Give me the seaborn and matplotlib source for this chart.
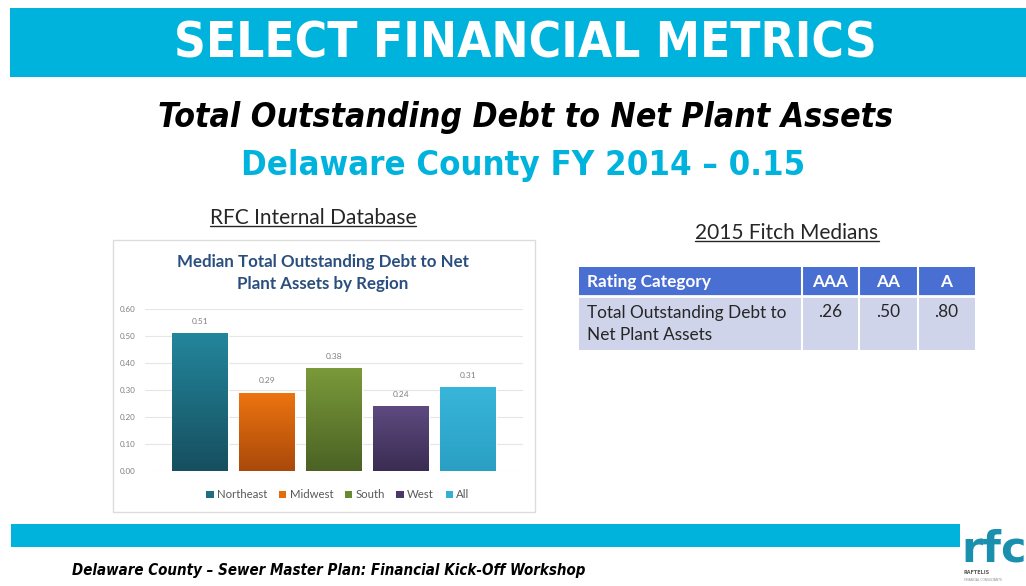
import numpy as np
import pandas as pd
import matplotlib
matplotlib.use("Agg")
import matplotlib.pyplot as plt
from matplotlib.patches import Rectangle
from matplotlib.colors import LinearSegmentedColormap
from matplotlib import font_manager as fm
import seaborn as sns

# ---- data ----
regions = ["Northeast", "Midwest", "South", "West", "All"]
debt_ratio = [0.51, 0.29, 0.38, 0.24, 0.31]
y_ticks = [0.0, 0.1, 0.2, 0.3, 0.4, 0.5, 0.6]

fitch_columns = ["Rating Category", "AAA", "AA", "A"]
fitch_metric = "Total Outstanding Debt to\nNet Plant Assets"
fitch_values = [".26", ".50", ".80"]

# top / bottom colour of each bar's vertical gradient
bar_top = ["#23869c", "#ee7410", "#7a9a3a", "#5e4a80", "#38b6da"]
bar_bottom = ["#164f5f", "#a9490a", "#4b6224", "#3a2c52", "#2a9fc4"]
legend_colors = ["#1f6f80", "#e46c0a", "#6a8a30", "#4b3868", "#33b0d6"]

W, H = 1026, 586
CYAN = "#00b3dd"

sns.set_theme(style="white")
plt.rcParams["font.family"] = ["DejaVu Sans"]

# pick a narrow sans for the slide headings
_names = {f.name for f in fm.fontManager.ttflist}
_dv_cond = any(f.name == "DejaVu Sans" and f.stretch == "condensed"
               for f in fm.fontManager.ttflist)
if "DejaVu Sans Condensed" in _names:
    HEAD_FONT = dict(family="DejaVu Sans Condensed")
elif _dv_cond:
    HEAD_FONT = dict(family="DejaVu Sans", fontstretch="condensed")
elif "Liberation Sans Narrow" in _names:
    HEAD_FONT = dict(family="Liberation Sans Narrow")
else:
    HEAD_FONT = dict(family="DejaVu Sans")

fig = plt.figure(figsize=(W / 100, H / 100), dpi=100)
fig.patch.set_facecolor("white")


def fx(x):
    return x / W


def fy(y):
    return 1 - y / H


def frect(x0, y0, x1, y1, **kw):
    r = Rectangle((fx(x0), fy(y1)), fx(x1) - fx(x0), fy(y0) - fy(y1),
                  transform=fig.transFigure, **kw)
    fig.add_artist(r)
    return r


# ---- slide header ----
frect(10, 8, W, 77, facecolor=CYAN, edgecolor="none")
fig.text(fx(525), fy(44), "SELECT FINANCIAL METRICS", color="white",
         fontsize=35.5, fontweight="bold", ha="center", va="center", **HEAD_FONT)
fig.text(fx(526), fy(118), "Total Outstanding Debt to Net Plant Assets",
         color="black", fontsize=24.2, fontweight="bold", style="italic",
         ha="center", va="center", **HEAD_FONT)
fig.text(fx(523), fy(165), "Delaware County FY 2014 \u2013 0.15", color=CYAN,
         fontsize=24.8, fontweight="bold", ha="center", va="center", **HEAD_FONT)

underlined = []
underlined.append(fig.text(fx(313), fy(218), "RFC Internal Database",
                           color="#262626", fontsize=15, ha="center",
                           va="center", family="Lato"))
underlined.append(fig.text(fx(787), fy(233), "2015 Fitch Medians",
                           color="#262626", fontsize=15, ha="center",
                           va="center", family="Lato"))

# ---- chart panel ----
frect(113, 240, 535, 512, facecolor="white", edgecolor="#dcdcdc", lw=1.0,
      zorder=-1)
fig.text(fx(323), fy(273), "Median Total Outstanding Debt to Net\nPlant Assets by Region",
         color="#2a4f7e", fontsize=12.2, fontweight="bold", ha="center",
         va="center", family="Lato", linespacing=1.4)

ax = fig.add_axes([fx(145), fy(471), fx(523) - fx(145), fy(309) - fy(471)])
ax.set_zorder(2)
ax.set_facecolor("none")
df = pd.DataFrame({"region": regions, "ratio": debt_ratio})
sns.barplot(data=df, x="region", y="ratio", hue="region", palette=legend_colors,
            legend=False, width=0.83, ax=ax, saturation=1)
ax.set_yticks(y_ticks)
ax.set_yticklabels([f"{t:.2f}" for t in y_ticks], fontsize=5.8, color="#7f7f7f",
                   family="Lato")
ax.tick_params(axis="y", length=0, pad=7)
ax.set_xticks([])
ax.set_xlabel("")
ax.set_ylabel("")
for s in ax.spines.values():
    s.set_visible(False)
ax.grid(axis="y", color="#e6e6e6", lw=0.8)
ax.set_axisbelow(True)

# vertical gradients clipped to each bar
grad = np.linspace(1, 0, 256).reshape(-1, 1)
for patch, ctop, cbot, val in zip(ax.patches, bar_top, bar_bottom, debt_ratio):
    cmap = LinearSegmentedColormap.from_list("g", [cbot, ctop])
    x0 = patch.get_x()
    w = patch.get_width()
    im = ax.imshow(grad, cmap=cmap, aspect="auto", extent=(x0, x0 + w, 0, val),
                   origin="upper", zorder=patch.get_zorder() + 0.1, vmin=0, vmax=1)
    im.set_clip_path(patch)
    ax.annotate(f"{val:.2f}", (x0 + w / 2, val), xytext=(0, 6),
                textcoords="offset points", ha="center", va="bottom",
                fontsize=6, color="#7f7f7f", family="Lato")
ax.set_xlim(-0.82, 4.82)
ax.set_ylim(0, 0.6)

handles = [Rectangle((0, 0), 1, 1, facecolor=c, edgecolor="none") for c in legend_colors]
fig.legend(handles, regions, loc="center", bbox_to_anchor=(fx(338), fy(495)),
           ncol=5, frameon=False, handlelength=0.65, handleheight=0.65,
           handletextpad=0.3, columnspacing=1.0, labelcolor="#595959",
           prop={"family": "Lato", "size": 8.2})

# ---- Fitch medians table ----
HEAD = "#4a6fd2"
ROW = "#cfd4ea"
col_edges = [579, 802, 859, 918, 975]
frect(579, 267, 975, 296, facecolor=HEAD, edgecolor="none")
frect(579, 296, 975, 350, facecolor=ROW, edgecolor="none")
for xe in col_edges[1:-1]:
    fig.add_artist(plt.Line2D([fx(xe), fx(xe)], [fy(267), fy(350)],
                              transform=fig.transFigure, color="white", lw=1.5))
fig.add_artist(plt.Line2D([fx(579), fx(975)], [fy(296), fy(296)],
                          transform=fig.transFigure, color="white", lw=2))

fig.text(fx(587), fy(282), fitch_columns[0], color="white", fontsize=12.4,
         fontweight="bold", ha="left", va="center", family="Lato")
for i, name in enumerate(fitch_columns[1:]):
    cx = (col_edges[i + 1] + col_edges[i + 2]) / 2
    fig.text(fx(cx), fy(282), name, color="white", fontsize=12.4,
             fontweight="bold", ha="center", va="center", family="Lato")
    fig.text(fx(cx), fy(312), fitch_values[i], color="#262626", fontsize=12.4,
             ha="center", va="center", family="Lato")
fig.text(fx(587), fy(324), fitch_metric, color="#262626", fontsize=12.4,
         ha="left", va="center", family="Lato", linespacing=1.45)

# ---- footer ----
frect(11, 524, 960, 547, facecolor=CYAN, edgecolor="none")
fig.text(fx(72), fy(570), "Delaware County \u2013 Sewer Master Plan: Financial Kick-Off Workshop",
         color="black", fontsize=10.8, fontweight="bold", style="italic",
         ha="left", va="center", **HEAD_FONT)
fig.text(fx(961), fy(549), "rfc", color="#1a8fae", fontsize=31, fontweight="bold",
         ha="left", va="center", family="DejaVu Sans")
fig.text(fx(964), fy(573), "RAFTELIS", color="#595959", fontsize=3.5,
         fontweight="bold", ha="left", va="center", family="DejaVu Sans")
fig.text(fx(964), fy(580), "FINANCIAL CONSULTANTS", color="#8a8a8a", fontsize=2.2,
         ha="left", va="center", family="DejaVu Sans")

# underline the two section captions
fig.canvas.draw()
renderer = fig.canvas.get_renderer()
for t in underlined:
    bb = t.get_window_extent(renderer).transformed(fig.transFigure.inverted())
    yb = bb.y0 + 0.12 * bb.height
    fig.add_artist(plt.Line2D([bb.x0, bb.x1], [yb, yb], transform=fig.transFigure,
                              color="#262626", lw=1.0))

fig.savefig("out.png", dpi=100, facecolor="white")
